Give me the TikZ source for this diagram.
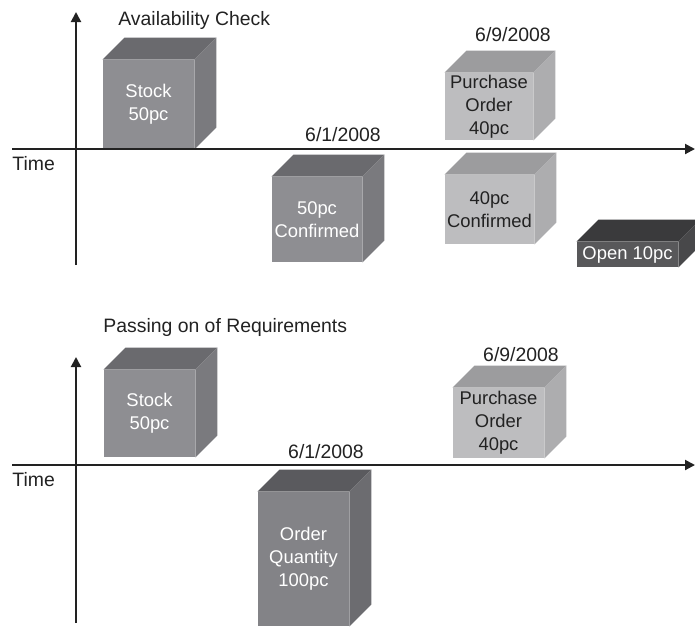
\documentclass[tikz,border=0pt]{standalone}
\usepackage{fontspec}
\setmainfont{Liberation Sans}
\usetikzlibrary{arrows.meta}

\definecolor{midfront}{HTML}{8E8E92}
\definecolor{midtop}{HTML}{6A6A6E}
\definecolor{midside}{HTML}{7A7A7E}
\definecolor{deepfront}{HTML}{838387}
\definecolor{deeptop}{HTML}{5A5A5E}
\definecolor{deepside}{HTML}{6C6C70}
\definecolor{lightfront}{HTML}{BDBDBF}
\definecolor{lighttop}{HTML}{9C9C9E}
\definecolor{lightside}{HTML}{ADADAF}
\definecolor{darkfront}{HTML}{58585A}
\definecolor{darktop}{HTML}{3A3A3C}
\definecolor{darkside}{HTML}{48484A}
\definecolor{ink}{HTML}{222222}

\tikzset{
  face/.style={inner sep=0pt, align=center, font=\fontsize{9.2}{11.5}\selectfont},
  midbox/.style={face, fill=midfront, text=white},
  deepbox/.style={face, fill=deepfront, text=white},
  lightbox/.style={face, fill=lightfront, text=ink},
  darkbox/.style={face, fill=darkfront, text=white},
  label/.style={font=\fontsize{9.7}{11}\selectfont, text=ink, inner sep=0pt},
  axis/.style={line width=1pt, draw=ink, -{Triangle[length=5pt,width=5pt]}}
}

% top and right face of a box, behind its front node
\newcommand{\cubesides}[3]{%
  \fill[#2] (#1.north west) -- ++(22,-22) -- ([shift={(22,-22)}]#1.north east) -- (#1.north east) -- cycle;
  \fill[#3] (#1.north east) -- ++(22,-22) -- ([shift={(22,-22)}]#1.south east) -- (#1.south east) -- cycle;}

\begin{document}
\begin{tikzpicture}[x=0.5pt,y=-0.5pt]
\useasboundingbox (0,0) rectangle (695,628);

%% Availability Check %%

\node[label, anchor=west] (titleA) at (118,20) {Availability Check};
\node[label, anchor=west] (timeA) at (12,164) {Time};
\node[label] (dateA1) at (343,135) {6/1/2008};
\node[label] (dateA2) at (513,35) {6/9/2008};

\node[midbox, minimum width=45.5pt, minimum height=44.5pt] (stockA) at (148.5,104.5) {Stock\\50pc};
\cubesides{stockA}{midtop}{midside}

\node[midbox, minimum width=45pt, minimum height=42.5pt] (confA) at (317,219.5) {50pc\\Confirmed};
\cubesides{confA}{midtop}{midside}

\node[lightbox, minimum width=44pt, minimum height=33.5pt] (purchA) at (489,106.5) {Purchase\\Order\\40pc};
\cubesides{purchA}{lighttop}{lightside}

\node[lightbox, minimum width=44.5pt, minimum height=34.5pt] (confB) at (489.5,209.5) {40pc\\Confirmed};
\cubesides{confB}{lighttop}{lightside}

\node[darkbox, minimum width=50.5pt, minimum height=12.5pt] (openA) at (627.5,254.5) {Open 10pc};
\cubesides{openA}{darktop}{darkside}

\draw[axis] (76,265) -- (76,12);
\draw[axis] (12,149) -- (695,149);

%% Passing on of Requirements %%

\node[label, anchor=west] (titleB) at (103,327) {Passing on of Requirements};
\node[label, anchor=west] (timeB) at (12,480) {Time};
\node[label] (dateB1) at (326,452) {6/1/2008};
\node[label] (dateB2) at (521,355) {6/9/2008};

\node[midbox, minimum width=45.5pt, minimum height=43.5pt] (stockB) at (149.5,413.5) {Stock\\50pc};
\cubesides{stockB}{midtop}{midside}

\node[deepbox, minimum width=45.5pt, minimum height=67pt] (orderB) at (303.5,559) {Order\\Quantity\\100pc};
\cubesides{orderB}{deeptop}{deepside}

\node[lightbox, minimum width=45.5pt, minimum height=35pt] (purchB) at (498.5,423) {Purchase\\Order\\40pc};
\cubesides{purchB}{lighttop}{lightside}

\draw[axis] (76,623) -- (76,357);
\draw[axis] (12,465) -- (695,465);

\end{tikzpicture}
\end{document}
